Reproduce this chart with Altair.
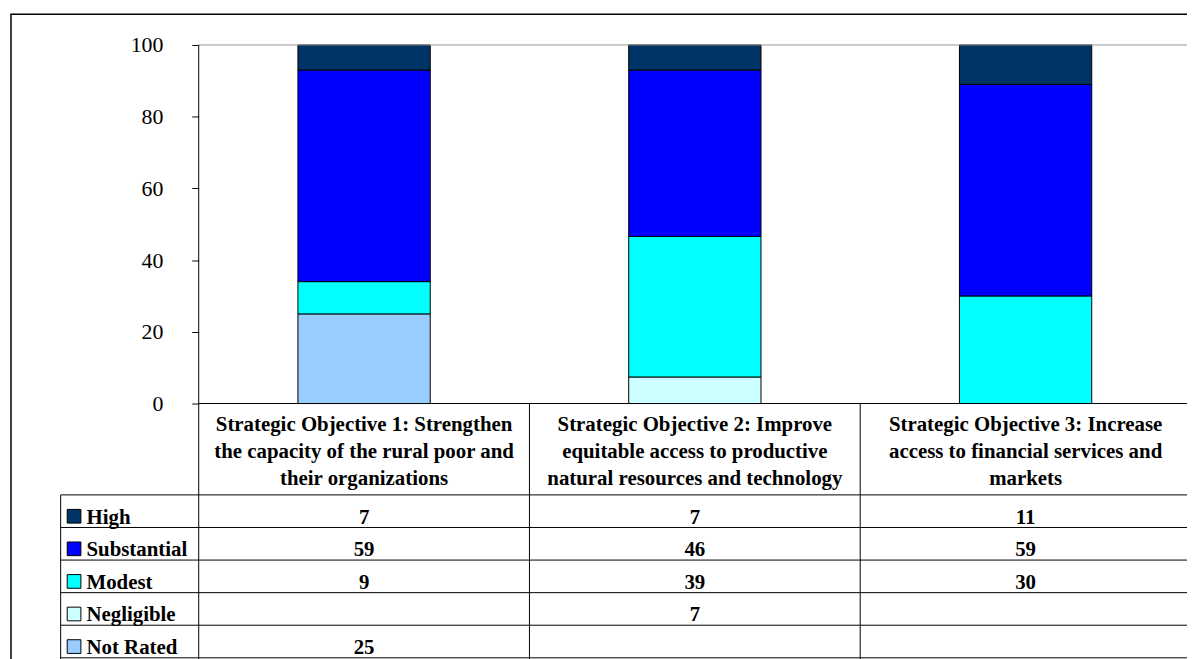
import altair as alt
import pandas as pd

# ---------------- data ----------------
categories = [
    "Strategic Objective 1: Strengthen\nthe capacity of the rural poor and\ntheir organizations",
    "Strategic Objective 2: Improve\nequitable access to productive\nnatural resources and technology",
    "Strategic Objective 3: Increase\naccess to financial services and\nmarkets",
]
ratings = ["High", "Substantial", "Modest", "Negligible", "Not Rated"]
high = [7, 7.0, 11]
substantial = [59, 46.4, 59]
modest = [9, 39.2, 30]
negligible = [None, 7.4, None]
not_rated = [25, None, None]
colors = ["#003366", "#0000FF", "#00FFFF", "#CCFFFF", "#99CCFF"]
y_ticks = [0, 20, 40, 60, 80, 100]

series = [high, substantial, modest, negligible, not_rated]

FONT = "Liberation Serif"
TFS = 21   # table font size

# ---------------- layout (screen pixels) ----------------
PLOT_LEFT, PLOT_TOP, PLOT_ZERO = 200, 43, 404
STEP = 333                 # px per category column
ROW_TOP0, ROW_H = 496, 32.8
TABLE_LEFT = 61
W, H = 995, 616            # plot area size
U = (PLOT_ZERO - PLOT_TOP) / 100.0


def yv(p):
    return 100 - (p - PLOT_TOP) / U


def xv(p):
    return (p - PLOT_LEFT) / STEP


Y_MIN = yv(PLOT_TOP + H)
X_MAX = W / STEP

xscale = alt.Scale(domain=[0, X_MAX], nice=False, zero=False)
yscale = alt.Scale(domain=[Y_MIN, 100], nice=False, zero=False)
cscale = alt.Scale(domain=ratings, range=colors)
yaxis = alt.Axis(values=y_ticks, domain=False, grid=False, tickSize=7,
                 tickColor="black", tickWidth=1, labelFont=FONT,
                 labelFontSize=22, labelColor="black", labelPadding=29,
                 format="d", title=None)


def Y(field):
    return alt.Y(field, scale=yscale, axis=yaxis, title=None)


def X(field):
    return alt.X(field, scale=xscale, axis=None)


# bars
bar_rows = []
for i in range(len(categories)):
    base = 0
    for r in reversed(range(len(ratings))):
        v = series[r][i]
        if v is None:
            continue
        bar_rows.append(dict(rating=ratings[r], value=v, x0=i + 0.3, x1=i + 0.7,
                             y0=base, y1=base + v))
        base += v
bars_df = pd.DataFrame(bar_rows)

bars = alt.Chart(bars_df).mark_rect(stroke="black", strokeWidth=1).encode(
    x=X("x0:Q"), x2="x1:Q",
    y=Y("y0:Q"), y2="y1:Q",
    color=alt.Color("rating:N", scale=cscale, legend=None),
)

# table lines
segs = []
bottom = Y_MIN - 5
segs.append(dict(x0=0, x1=0, y0=100, y1=bottom, c="black"))
for k in range(1, 3):
    segs.append(dict(x0=k, x1=k, y0=0, y1=bottom, c="black"))
segs.append(dict(x0=xv(TABLE_LEFT), x1=xv(TABLE_LEFT), y0=yv(ROW_TOP0), y1=bottom, c="black"))
segs.append(dict(x0=0, x1=3.2, y0=0, y1=0, c="black"))
for k in range(len(ratings) + 1):
    yy = yv(ROW_TOP0 + ROW_H * k)
    segs.append(dict(x0=xv(TABLE_LEFT), x1=3.2, y0=yy, y1=yy, c="black"))
segs.append(dict(x0=0, x1=3.2, y0=100, y1=100, c="#999999"))
segs_df = pd.DataFrame(segs)

lines = alt.Chart(segs_df).mark_rule(strokeWidth=1).encode(
    x=X("x0:Q"), x2="x1:Q",
    y=Y("y0:Q"), y2="y1:Q",
    color=alt.Color("c:N", scale=None, legend=None),
)

# header labels
head_df = pd.DataFrame(dict(label=categories,
                            x=[i + 0.5 for i in range(len(categories))],
                            y=[yv(432)] * len(categories)))
header = alt.Chart(head_df).mark_text(
    font=FONT, fontSize=TFS, fontWeight="bold", color="black",
    lineBreak="\n", lineHeight=27, align="center", baseline="alphabetic",
).encode(
    x=X("x:Q"), y=Y("y:Q"), text="label:N",
)

# table values
val_rows = []
for r, name in enumerate(ratings):
    for i in range(len(categories)):
        v = series[r][i]
        if v is None:
            continue
        val_rows.append(dict(rating=name, value=v, x=i + 0.5,
                             y=yv(ROW_TOP0 + ROW_H * r + 29)))
vals_df = pd.DataFrame(val_rows)
values = alt.Chart(vals_df).mark_text(
    font=FONT, fontSize=TFS, fontWeight="bold", color="black",
    align="center", baseline="alphabetic",
).encode(
    x=X("x:Q"), y=Y("y:Q"),
    text=alt.Text("value:Q", format=".0f"),
)

# legend column
leg_df = pd.DataFrame(dict(
    rating=ratings,
    sx=[xv(74.5)] * len(ratings),
    sy=[yv(ROW_TOP0 + ROW_H * r + 21.5) for r in range(len(ratings))],
    tx=[xv(87)] * len(ratings),
    ty=[yv(ROW_TOP0 + ROW_H * r + 29) for r in range(len(ratings))],
))
leg_sq = alt.Chart(leg_df).mark_square(size=190, filled=True, opacity=1,
                                       stroke="black", strokeWidth=1).encode(
    x=X("sx:Q"), y=Y("sy:Q"),
    color=alt.Color("rating:N", scale=cscale, legend=None),
)
leg_tx = alt.Chart(leg_df).mark_text(
    font=FONT, fontSize=TFS, fontWeight="bold", color="black",
    align="left", baseline="alphabetic",
).encode(
    x=X("tx:Q"), y=Y("ty:Q"), text="rating:N",
)

# outer frame
frame = alt.Chart(pd.DataFrame({"k": [0]})).mark_rect(
    fillOpacity=0, stroke="black", strokeWidth=1.5
).encode(
    x=alt.value(-189), x2=alt.value(1200), y=alt.value(-31), y2=alt.value(700)
)

chart = alt.layer(bars, lines, header, values, leg_sq, leg_tx, frame).properties(
    width=W, height=H,
    autosize=alt.AutoSizeParams(type="none"),
    padding={"left": 192, "top": 35, "right": 0, "bottom": 0},
    background="white",
).configure_view(stroke=None)

chart.save("out.html", embed_options={"renderer": "svg", "actions": False})
